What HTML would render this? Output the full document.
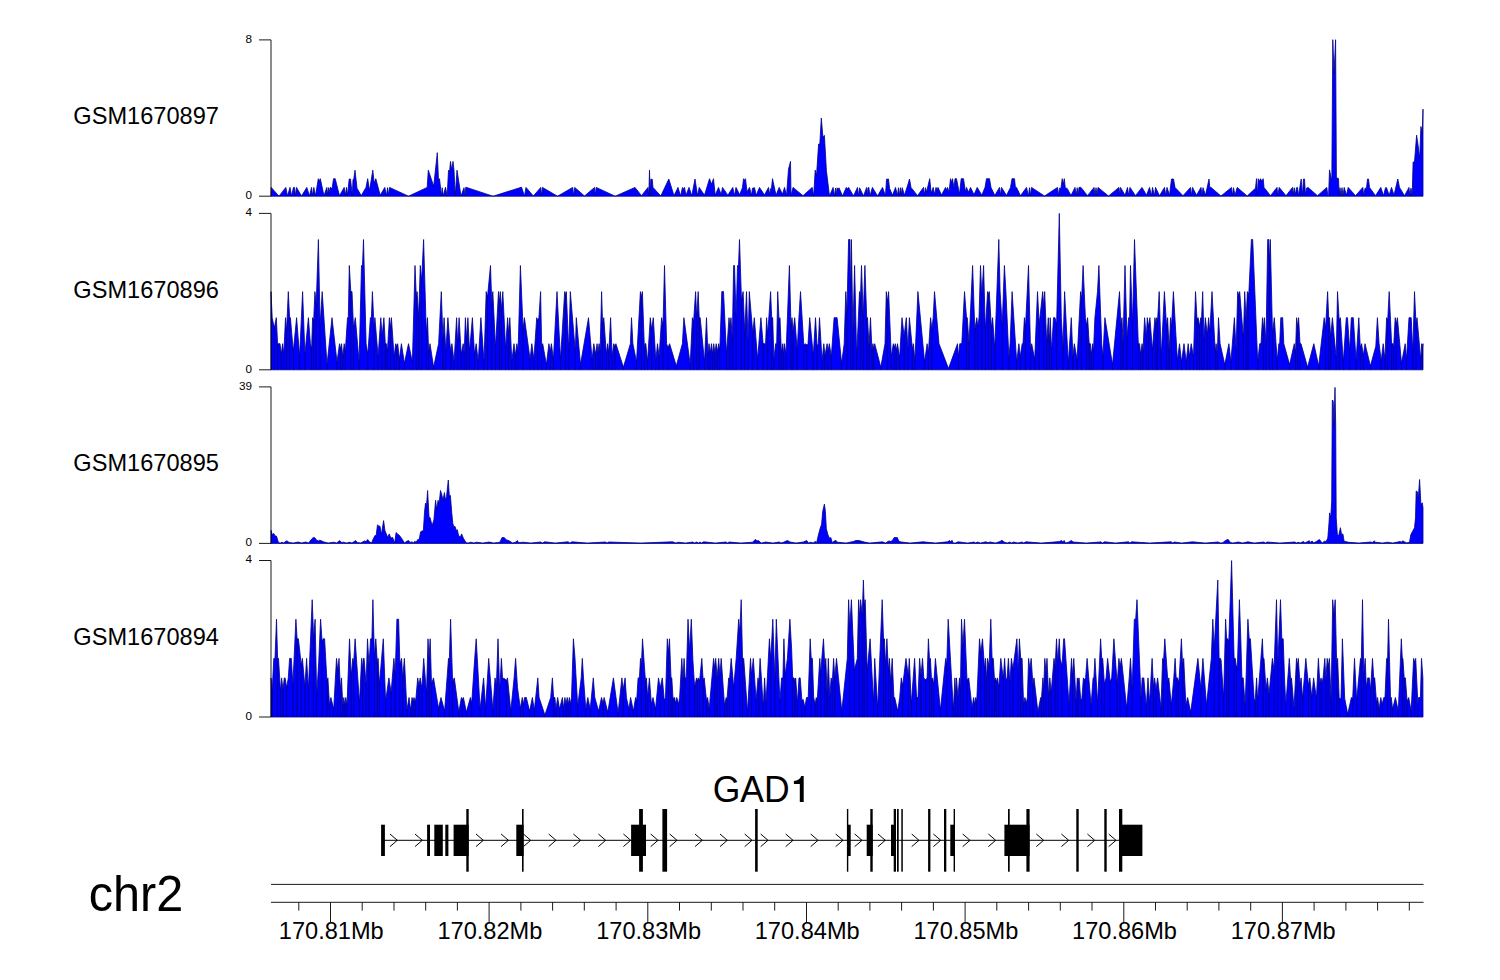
<!DOCTYPE html>
<html><head><meta charset="utf-8"><title>chr2 GAD1</title>
<style>
html,body{margin:0;padding:0;background:#fff;}
body{width:1500px;height:980px;overflow:hidden;font-family:"Liberation Sans",sans-serif;}
svg{display:block;}
text{font-family:"Liberation Sans",sans-serif;fill:#000;}
.lab{font-size:23.6px;}
.yl{font-size:11.7px;text-anchor:end;}
.ax{stroke:#000;stroke-width:0.9;fill:none;}
.gl{stroke:#000;stroke-width:1;fill:none;}
.sig{fill:#0000ff;stroke:#000088;stroke-width:0.8;stroke-linejoin:round;}
.val{fill:none;stroke:#000080;stroke-width:0.9;opacity:0.9;}
</style></head><body>
<svg width="1500" height="980" viewBox="0 0 1500 980">
<rect width="1500" height="980" fill="#fff"/>
<path class="sig" d="M271.0,196.2L271.2,187.4L279.0,196.2L285.8,187.4L287.5,196.0L290.0,187.4L291.5,196.0L293.5,187.4L294.5,187.4L295.2,196.0L296.5,187.4L301.5,196.0L306.8,187.4L309.5,196.0L311.5,187.4L312.5,195.7L313.8,187.4L315.5,195.7L318.3,178.7L319.3,181.2L320.3,178.7L324.0,195.7L326.8,187.4L327.6,194.7L328.5,187.7L329.2,194.2L330.0,187.7L330.8,187.4L332.0,189.2L333.5,178.7L335.2,178.7L339.5,195.7L344.2,187.4L345.5,195.2L346.5,187.4L347.5,195.2L349.2,179.0L350.5,179.0L352.3,195.7L353.0,179.7L353.8,178.7L355.0,170.2L357.0,188.2L361.2,195.7L366.0,187.4L367.7,178.7L369.5,190.7L372.8,170.2L374.2,183.2L375.8,178.7L380.2,195.2L384.8,187.4L386.5,195.7L387.5,187.7L388.3,195.2L389.5,187.4L408.5,196.2L427.2,187.4L428.3,170.2L433.7,186.2L437.3,152.7L438.5,180.2L439.5,178.7L441.5,196.0L442.2,187.7L443.2,196.0L445.5,187.2L447.2,196.0L448.5,170.2L449.5,172.2L450.5,161.4L451.8,170.2L453.0,161.4L454.0,170.2L455.2,196.0L457.0,170.2L461.0,196.0L464.0,187.7L465.0,195.7L465.8,187.2L493.0,196.2L521.5,187.2L524.5,196.0L526.0,187.4L533.3,196.0L540.8,187.4L541.5,195.7L542.5,187.4L557.5,196.2L572.7,187.4L573.5,195.7L574.7,187.4L584.5,196.0L594.5,187.4L595.2,195.7L596.2,187.4L615.2,196.2L635.0,187.4L641.5,195.7L648.0,187.4L648.8,196.0L649.5,170.2L650.2,195.7L650.8,179.2L652.2,179.2L653.0,187.4L660.8,196.0L668.8,179.0L674.0,195.7L678.0,187.4L680.5,196.0L682.5,187.4L683.5,189.2L684.5,187.4L686.0,195.2L689.0,187.4L691.8,195.7L695.0,179.0L697.5,195.7L699.2,187.4L704.5,195.2L709.5,178.7L711.5,184.2L713.5,178.7L715.2,195.2L718.5,187.4L721.2,194.7L722.5,187.4L727.8,195.2L732.8,187.4L734.5,195.7L736.0,187.4L739.7,194.7L742.5,187.4L743.5,178.7L744.5,180.2L745.5,178.7L747.0,191.7L749.5,187.4L751.5,195.2L752.5,188.2L754.5,187.7L756.2,195.2L759.5,187.4L764.5,195.0L768.5,187.4L769.7,195.2L770.5,188.7L771.5,188.2L772.5,178.7L776.0,195.2L779.2,187.4L782.5,194.2L784.5,187.4L786.5,195.7L788.5,169.2L790.5,161.4L791.0,195.7L793.0,187.4L803.0,195.7L812.2,187.4L813.7,196.1L815.2,170.1L816.5,175.7L818.6,144.1L819.8,144.1L821.3,118.1L822.9,136.9L824.4,135.4L826.4,170.6L829.5,196.1L833.1,187.4L834.6,195.9L835.6,188.0L836.1,195.9L837.1,187.8L838.2,190.0L839.0,187.8L842.5,195.9L846.3,187.4L847.4,189.0L848.6,187.4L853.5,195.9L857.5,187.4L858.4,195.9L859.6,187.8L863.5,195.9L866.7,187.4L867.5,195.9L868.0,188.0L868.8,187.4L870.0,195.9L872.4,187.4L877.5,195.9L882.5,187.4L885.5,195.7L886.5,179.2L888.5,179.0L889.5,188.2L892.5,195.2L895.5,187.4L897.5,195.2L898.5,187.7L899.5,195.2L900.5,187.7L901.2,195.2L902.2,187.7L904.5,195.2L908.0,184.2L909.5,179.0L911.0,187.4L917.5,195.7L923.5,187.4L924.5,195.2L925.5,187.7L926.5,192.2L929.7,178.7L931.2,193.2L933.2,187.4L934.5,194.7L936.0,187.4L937.0,190.2L938.0,187.4L941.5,195.0L945.5,187.4L946.5,190.2L947.5,187.4L949.0,192.2L950.5,178.7L951.5,182.2L952.5,178.7L954.0,188.2L955.0,178.7L956.5,178.7L959.5,194.2L961.2,178.7L963.5,178.7L965.5,192.2L966.5,187.4L968.5,192.2L970.5,187.4L974.0,194.7L977.2,187.4L981.8,195.2L985.0,187.4L986.5,178.7L989.5,178.7L991.0,187.4L994.8,195.4L999.5,187.4L1000.5,195.2L1001.5,187.4L1006.5,195.4L1010.5,187.4L1012.0,178.7L1014.5,178.7L1015.5,188.2L1016.5,187.4L1020.5,195.7L1026.5,187.4L1028.5,196.0L1029.5,187.7L1030.5,195.7L1031.5,187.4L1044.5,196.0L1057.5,187.4L1058.5,195.7L1059.5,188.2L1061.0,188.2L1062.2,178.7L1063.3,184.2L1064.3,178.7L1065.3,188.2L1067.0,188.2L1071.0,195.4L1075.0,187.4L1076.2,195.2L1077.2,187.7L1078.2,195.2L1079.0,187.4L1081.0,187.4L1087.5,195.7L1094.0,187.4L1095.0,195.2L1096.0,187.7L1097.0,195.2L1098.0,187.4L1108.5,196.0L1119.0,187.4L1119.8,195.7L1120.5,187.4L1125.0,195.2L1127.5,187.4L1128.7,195.7L1130.0,187.4L1135.5,195.7L1142.0,187.4L1146.5,195.2L1149.5,187.4L1151.5,195.7L1152.5,187.4L1154.5,195.7L1155.5,187.4L1159.5,195.7L1164.5,187.4L1165.8,195.7L1167.0,187.4L1169.5,195.2L1171.5,179.0L1173.5,179.0L1175.0,187.4L1183.0,195.7L1190.5,187.4L1191.5,195.7L1192.5,187.4L1196.5,195.2L1201.0,187.4L1202.0,195.2L1203.0,187.7L1205.5,195.2L1209.0,179.0L1209.8,187.2L1211.0,187.4L1221.0,196.0L1231.5,187.4L1232.5,195.7L1233.5,187.7L1235.0,195.2L1237.2,187.4L1247.2,196.0L1255.5,188.2L1256.5,178.7L1257.5,196.0L1258.2,178.7L1259.5,181.2L1260.5,178.7L1262.0,181.2L1263.2,178.7L1264.0,187.4L1270.5,195.7L1277.0,187.4L1277.8,195.7L1279.2,187.4L1286.0,195.7L1292.5,187.4L1293.2,195.2L1294.2,187.7L1295.5,194.7L1296.5,187.7L1297.5,187.4L1298.5,195.7L1301.2,179.0L1302.5,195.7L1303.5,179.0L1304.5,179.0L1305.5,195.7L1306.5,188.2L1308.0,187.4L1317.5,195.7L1326.8,187.4L1327.8,196.0L1328.6,195.5L1329.5,169.9L1331.8,181.1L1332.8,39.7L1334.0,73.6L1335.6,39.7L1336.4,177.7L1338.5,178.5L1339.2,195.0L1340.0,187.7L1341.0,195.7L1342.0,187.7L1343.0,195.7L1344.2,187.4L1346.5,195.2L1348.2,187.4L1355.5,195.7L1362.8,187.4L1363.8,195.7L1365.0,188.2L1366.5,188.2L1367.5,179.0L1368.5,179.0L1369.5,187.4L1375.5,195.7L1380.8,187.4L1383.5,195.7L1385.5,187.7L1386.5,187.7L1389.2,195.2L1391.5,187.4L1394.0,195.2L1397.8,179.0L1399.5,187.4L1404.5,195.7L1409.0,187.4L1409.8,195.7L1411.0,188.2L1412.2,195.7L1413.1,162.0L1414.5,162.0L1416.6,135.2L1418.0,144.7L1419.7,158.6L1420.9,126.5L1422.3,132.6L1423.0,109.1L1423.0,196.2Z"/>
<path class="ax" d="M259,39.9H271.0V196.2H259"/>
<text class="yl" x="252.1" y="42.7">8</text>
<text class="yl" x="252.1" y="199.0">0</text>
<text class="lab" transform="translate(73.3,124.2) scale(1,1.05)">GSM1670897</text>
<path class="sig" d="M271.0,369.8L271.0,291.6L272.2,317.7L274.3,328.1L276.3,317.7L277.6,343.7L278.8,343.7L280.0,343.7L281.3,354.2L282.6,343.7L283.8,354.2L285.5,317.7L286.6,330.7L288.3,291.6L289.6,317.7L290.4,317.7L293.3,351.6L296.6,317.7L299.6,356.8L302.6,291.6L304.9,354.2L308.4,317.7L310.4,343.7L311.6,348.9L312.6,317.7L313.7,320.3L314.9,291.6L316.2,304.6L318.4,239.5L320.1,325.5L322.2,291.6L327.0,364.6L332.0,317.7L337.0,362.0L339.5,343.7L340.5,348.9L341.5,343.7L342.8,356.8L344.2,343.7L345.3,351.6L347.5,317.7L348.3,317.7L349.3,265.5L350.8,291.6L352.0,291.6L353.5,328.1L355.3,317.7L359.1,362.0L361.5,265.5L362.5,265.5L363.5,239.5L366.1,343.7L367.8,354.2L370.4,317.7L371.4,317.7L372.4,291.6L374.1,328.1L374.9,317.7L378.1,356.8L380.8,317.7L382.1,335.9L383.9,317.7L385.3,343.7L386.4,343.7L387.4,351.6L389.4,317.7L390.4,328.1L391.4,317.7L394.1,356.8L395.7,343.7L396.6,346.3L397.7,343.7L399.4,359.4L401.4,343.7L404.4,363.3L408.5,343.7L412.4,362.0L415.0,265.5L416.3,296.8L417.1,291.6L418.6,317.7L420.3,265.5L421.6,281.2L423.6,239.5L426.3,333.3L427.5,317.7L428.6,351.6L430.0,343.7L433.6,367.2L438.6,343.7L441.3,291.6L442.9,338.5L444.1,317.7L445.8,351.6L447.9,317.7L449.9,343.7L450.8,351.6L451.9,343.7L454.1,362.0L456.6,317.7L457.7,343.7L459.1,317.7L461.2,354.2L463.2,343.7L464.2,354.2L465.4,317.7L466.6,339.8L467.9,317.7L469.5,351.6L472.4,317.7L474.5,354.2L476.2,343.7L478.2,362.0L480.9,317.7L484.0,362.0L486.2,291.6L487.5,296.8L490.5,265.5L491.8,304.6L492.8,291.6L495.5,347.6L498.5,291.6L499.5,302.0L500.3,291.6L501.5,309.8L502.8,291.6L505.6,348.9L507.6,317.7L508.5,333.3L509.8,317.7L511.8,360.7L514.0,343.7L515.3,355.5L516.9,343.7L518.1,351.6L520.4,265.5L523.1,329.4L524.4,317.7L530.1,359.4L531.8,343.7L533.9,359.4L536.7,317.7L537.7,320.3L538.9,317.7L540.6,291.6L541.7,347.6L542.7,343.7L546.4,364.6L548.9,343.7L550.2,351.6L551.4,343.7L553.4,359.4L557.0,291.6L560.5,359.4L564.7,291.6L565.5,295.5L566.3,291.6L568.8,351.6L570.3,291.6L575.3,351.6L576.3,317.7L580.5,364.6L588.5,317.7L592.1,359.4L593.8,343.7L595.5,354.2L597.1,343.7L597.9,352.9L599.1,343.7L600.1,351.6L601.6,291.6L602.6,324.2L603.8,317.7L606.3,354.2L607.6,343.7L608.8,352.9L610.6,317.7L612.1,356.8L613.7,343.7L614.9,346.3L615.9,343.7L623.4,367.2L630.4,343.7L631.5,317.7L632.9,343.7L636.5,362.0L640.4,291.6L641.4,296.8L642.4,291.6L644.5,351.6L645.0,343.7L645.8,343.7L647.5,362.0L650.3,317.7L651.6,329.4L653.3,317.7L655.8,360.7L657.5,343.7L659.1,356.8L661.6,317.7L663.0,325.5L664.5,265.5L666.6,343.7L668.0,347.6L669.6,343.7L676.3,365.9L682.4,343.7L683.9,317.7L690.2,364.6L692.4,317.7L693.6,321.6L695.6,291.6L696.7,317.7L698.2,291.6L699.2,317.7L700.2,317.7L704.5,362.0L706.5,317.7L707.9,354.2L709.0,343.7L710.2,352.9L711.5,343.7L712.5,354.2L713.7,343.7L714.9,352.9L716.2,343.7L717.5,351.6L718.7,343.7L719.8,350.2L721.8,291.6L723.5,291.6L726.5,354.2L729.0,317.7L729.8,326.8L731.0,317.7L732.3,341.1L733.6,265.5L734.5,265.5L736.1,317.7L737.5,265.5L738.5,265.5L739.5,239.5L741.5,300.7L743.1,291.6L744.8,333.3L746.5,291.6L748.1,343.7L749.3,291.6L752.8,333.3L754.3,317.7L757.6,359.4L760.9,317.7L763.1,343.7L765.6,343.7L766.6,317.7L767.7,334.6L770.6,291.6L771.7,317.7L772.7,317.7L773.9,359.4L775.6,343.7L776.7,343.7L777.7,291.6L779.0,319.0L780.0,317.7L781.4,352.9L782.7,343.7L783.4,354.2L784.4,343.7L786.0,354.2L789.4,265.5L791.0,325.5L792.0,317.7L793.0,332.0L794.7,317.7L797.2,350.2L798.9,317.7L800.5,291.6L803.8,345.0L805.5,343.7L806.7,345.0L808.0,343.7L809.7,317.7L813.3,355.5L815.5,317.7L817.1,346.3L818.3,343.7L819.5,317.7L822.1,360.7L823.8,343.7L825.0,355.5L827.1,343.7L828.0,351.6L829.3,343.7L831.3,356.8L834.1,317.7L837.1,317.7L841.6,363.3L844.2,343.7L845.8,291.6L846.9,315.1L848.6,239.5L849.9,239.5L850.6,291.6L851.4,239.5L852.9,333.3L854.6,265.5L856.7,356.8L859.5,291.6L860.4,299.4L861.5,265.5L863.2,317.7L864.9,265.5L866.7,317.7L867.5,317.7L869.0,346.3L870.5,317.7L872.0,351.6L872.9,343.7L873.7,348.9L874.7,343.7L880.8,367.2L885.0,343.7L886.3,291.6L887.3,302.0L888.6,291.6L891.3,356.8L893.3,343.7L894.3,347.6L895.3,343.7L896.3,350.2L897.5,343.7L899.6,358.1L902.0,317.7L904.1,335.9L906.3,317.7L907.9,350.2L909.4,317.7L912.4,348.9L913.4,343.7L914.9,360.7L917.9,291.6L924.6,362.0L927.1,343.7L928.4,352.9L930.6,317.7L931.9,329.4L933.2,317.7L934.5,291.6L939.0,343.7L948.5,368.5L957.5,343.7L958.5,356.8L959.8,343.7L961.8,343.7L964.5,291.6L966.5,317.7L967.3,317.7L969.0,343.7L972.6,265.5L974.8,329.4L976.8,317.7L977.8,326.8L979.0,317.7L980.5,265.5L981.8,295.5L983.6,265.5L985.3,330.7L987.6,291.6L988.4,294.2L989.3,291.6L991.4,328.1L992.6,317.7L994.8,348.9L998.8,239.5L1000.1,291.6L1002.2,325.5L1004.4,265.5L1005.9,291.6L1008.9,358.1L1010.1,343.7L1012.1,291.6L1016.7,362.0L1018.9,343.7L1020.2,356.8L1022.2,343.7L1023.0,343.7L1024.4,317.7L1025.5,326.8L1028.5,265.5L1030.5,348.9L1031.7,343.7L1034.7,359.4L1037.5,291.6L1039.2,324.2L1042.7,291.6L1043.8,307.2L1044.7,291.6L1046.7,343.7L1048.3,317.7L1049.3,343.7L1050.2,317.7L1051.6,351.6L1053.5,317.7L1055.0,317.7L1056.6,324.2L1059.3,213.4L1061.3,317.7L1063.0,347.6L1064.6,291.6L1068.3,363.3L1071.3,317.7L1072.9,356.8L1074.3,343.7L1077.1,359.4L1080.6,291.6L1081.6,299.4L1083.1,265.5L1085.4,317.7L1086.6,325.5L1087.6,317.7L1089.2,343.7L1090.4,343.7L1091.2,355.5L1092.6,343.7L1093.4,352.9L1094.9,317.7L1097.5,291.6L1098.9,265.5L1101.7,343.7L1102.9,356.8L1104.9,317.7L1112.5,364.6L1119.5,291.6L1120.8,324.2L1122.0,317.7L1123.0,343.7L1125.0,265.5L1127.0,338.5L1128.6,317.7L1129.6,317.7L1130.5,265.5L1132.5,324.2L1134.5,239.5L1138.3,343.7L1139.6,343.7L1140.5,354.2L1142.1,343.7L1142.9,352.9L1144.6,317.7L1146.3,337.2L1147.3,317.7L1148.6,326.8L1149.9,317.7L1152.4,350.2L1154.9,317.7L1155.9,324.2L1156.6,317.7L1157.6,320.3L1159.2,291.6L1161.2,356.8L1164.4,291.6L1166.6,326.8L1167.6,317.7L1169.2,351.6L1170.5,317.7L1171.5,326.8L1173.4,291.6L1177.4,360.7L1179.5,343.7L1181.5,362.0L1184.0,343.7L1186.2,362.0L1188.2,343.7L1189.5,356.8L1191.2,343.7L1193.5,356.8L1195.5,291.6L1197.0,319.0L1198.2,317.7L1199.5,326.8L1200.7,317.7L1201.5,320.3L1202.7,291.6L1204.0,339.8L1205.3,317.7L1207.3,334.6L1208.6,317.7L1209.8,332.0L1212.0,291.6L1215.3,352.9L1216.1,343.7L1217.3,354.2L1218.5,317.7L1220.1,343.7L1224.8,364.6L1228.9,343.7L1230.9,362.0L1234.4,317.7L1236.1,350.2L1237.7,291.6L1238.7,295.5L1239.7,291.6L1243.4,338.5L1244.7,291.6L1246.1,320.3L1247.4,291.6L1248.1,295.5L1248.9,291.6L1251.4,239.5L1252.7,239.5L1257.7,362.0L1259.7,343.7L1261.0,343.7L1262.5,317.7L1263.4,329.4L1264.4,317.7L1266.0,343.7L1267.7,239.5L1268.7,239.5L1269.5,260.3L1270.3,239.5L1272.5,333.3L1274.3,317.7L1277.2,360.7L1278.8,343.7L1279.7,343.7L1280.8,317.7L1282.7,317.7L1283.8,343.7L1289.6,364.6L1294.3,343.7L1295.5,352.9L1296.6,317.7L1297.6,326.8L1298.6,317.7L1300.0,343.7L1301.0,343.7L1307.6,367.2L1313.8,343.7L1318.7,365.9L1324.2,317.7L1325.6,328.1L1327.6,291.6L1328.7,317.7L1329.5,317.7L1330.7,337.2L1332.4,317.7L1336.2,358.1L1337.5,291.6L1339.2,320.3L1340.4,317.7L1343.3,362.0L1346.3,317.7L1347.5,317.7L1349.7,351.6L1351.3,317.7L1353.3,317.7L1356.1,360.7L1358.8,317.7L1360.3,347.6L1361.6,343.7L1363.3,355.5L1365.0,343.7L1370.4,365.9L1375.8,346.3L1377.4,317.7L1379.1,343.7L1381.2,360.7L1383.2,343.7L1384.9,359.4L1386.6,317.7L1387.7,320.3L1389.2,291.6L1391.6,343.7L1392.9,343.7L1393.6,347.6L1395.2,317.7L1396.2,324.2L1397.4,317.7L1401.5,363.3L1405.2,343.7L1406.5,359.4L1409.0,317.7L1411.2,317.7L1412.8,352.9L1414.5,291.6L1416.0,324.2L1417.0,317.7L1420.7,359.4L1421.7,343.7L1422.5,347.6L1423.0,343.7L1423.0,369.8Z"/>
<path class="val" d="M274.3,328.1V369.8M277.6,343.7V369.8M281.3,354.2V369.8M283.8,354.2V369.8M286.6,330.7V369.8M289.6,317.7V369.8M293.3,351.6V369.8M299.6,356.8V369.8M304.9,354.2V369.8M311.6,348.9V369.8M313.7,320.3V369.8M316.2,304.6V369.8M320.1,325.5V369.8M327.0,364.6V369.8M337.0,362.0V369.8M340.5,348.9V369.8M342.8,356.8V369.8M345.3,351.6V369.8M350.8,291.6V369.8M353.5,328.1V369.8M359.1,362.0V369.8M367.8,354.2V369.8M374.1,328.1V369.8M378.1,356.8V369.8M382.1,335.9V369.8M385.3,343.7V369.8M387.4,351.6V369.8M390.4,328.1V369.8M394.1,356.8V369.8M396.6,346.3V369.8M399.4,359.4V369.8M404.4,363.3V369.8M412.4,362.0V369.8M416.3,296.8V369.8M418.6,317.7V369.8M421.6,281.2V369.8M426.3,333.3V369.8M428.6,351.6V369.8M433.6,367.2V369.8M442.9,338.5V369.8M445.8,351.6V369.8M450.8,351.6V369.8M454.1,362.0V369.8M457.7,343.7V369.8M461.2,354.2V369.8M464.2,354.2V369.8M466.6,339.8V369.8M469.5,351.6V369.8M474.5,354.2V369.8M478.2,362.0V369.8M484.0,362.0V369.8M487.5,296.8V369.8M491.8,304.6V369.8M495.5,347.6V369.8M499.5,302.0V369.8M501.5,309.8V369.8M505.6,348.9V369.8M508.5,333.3V369.8M511.8,360.7V369.8M515.3,355.5V369.8M518.1,351.6V369.8M523.1,329.4V369.8M530.1,359.4V369.8M533.9,359.4V369.8M537.7,320.3V369.8M541.7,347.6V369.8M546.4,364.6V369.8M550.2,351.6V369.8M553.4,359.4V369.8M560.5,359.4V369.8M565.5,295.5V369.8M568.8,351.6V369.8M575.3,351.6V369.8M580.5,364.6V369.8M592.1,359.4V369.8M595.5,354.2V369.8M597.9,352.9V369.8M600.1,351.6V369.8M602.6,324.2V369.8M606.3,354.2V369.8M608.8,352.9V369.8M612.1,356.8V369.8M614.9,346.3V369.8M623.4,367.2V369.8M636.5,362.0V369.8M641.4,296.8V369.8M644.5,351.6V369.8M647.5,362.0V369.8M651.6,329.4V369.8M655.8,360.7V369.8M659.1,356.8V369.8M663.0,325.5V369.8M668.0,347.6V369.8M676.3,365.9V369.8M690.2,364.6V369.8M693.6,321.6V369.8M696.7,317.7V369.8M699.2,317.7V369.8M704.5,362.0V369.8M707.9,354.2V369.8M710.2,352.9V369.8M712.5,354.2V369.8M714.9,352.9V369.8M717.5,351.6V369.8M719.8,350.2V369.8M726.5,354.2V369.8M729.8,326.8V369.8M732.3,341.1V369.8M736.1,317.7V369.8M741.5,300.7V369.8M744.8,333.3V369.8M748.1,343.7V369.8M752.8,333.3V369.8M757.6,359.4V369.8M763.1,343.7V369.8M767.7,334.6V369.8M771.7,317.7V369.8M773.9,359.4V369.8M779.0,319.0V369.8M781.4,352.9V369.8M783.4,354.2V369.8M786.0,354.2V369.8M791.0,325.5V369.8M793.0,332.0V369.8M797.2,350.2V369.8M803.8,345.0V369.8M806.7,345.0V369.8M813.3,355.5V369.8M817.1,346.3V369.8M822.1,360.7V369.8M825.0,355.5V369.8M828.0,351.6V369.8M831.3,356.8V369.8M841.6,363.3V369.8M846.9,315.1V369.8M850.6,291.6V369.8M852.9,333.3V369.8M856.7,356.8V369.8M860.4,299.4V369.8M863.2,317.7V369.8M866.7,317.7V369.8M869.0,346.3V369.8M872.0,351.6V369.8M873.7,348.9V369.8M880.8,367.2V369.8M887.3,302.0V369.8M891.3,356.8V369.8M894.3,347.6V369.8M896.3,350.2V369.8M899.6,358.1V369.8M904.1,335.9V369.8M907.9,350.2V369.8M912.4,348.9V369.8M914.9,360.7V369.8M924.6,362.0V369.8M928.4,352.9V369.8M931.9,329.4V369.8M958.5,356.8V369.8M966.5,317.7V369.8M969.0,343.7V369.8M974.8,329.4V369.8M977.8,326.8V369.8M981.8,295.5V369.8M985.3,330.7V369.8M988.4,294.2V369.8M991.4,328.1V369.8M994.8,348.9V369.8M1002.2,325.5V369.8M1008.9,358.1V369.8M1016.7,362.0V369.8M1020.2,356.8V369.8M1025.5,326.8V369.8M1030.5,348.9V369.8M1034.7,359.4V369.8M1039.2,324.2V369.8M1043.8,307.2V369.8M1046.7,343.7V369.8M1049.3,343.7V369.8M1051.6,351.6V369.8M1056.6,324.2V369.8M1063.0,347.6V369.8M1068.3,363.3V369.8M1072.9,356.8V369.8M1077.1,359.4V369.8M1081.6,299.4V369.8M1086.6,325.5V369.8M1089.2,343.7V369.8M1091.2,355.5V369.8M1093.4,352.9V369.8M1102.9,356.8V369.8M1112.5,364.6V369.8M1120.8,324.2V369.8M1123.0,343.7V369.8M1127.0,338.5V369.8M1132.5,324.2V369.8M1138.3,343.7V369.8M1140.5,354.2V369.8M1142.9,352.9V369.8M1146.3,337.2V369.8M1148.6,326.8V369.8M1152.4,350.2V369.8M1155.9,324.2V369.8M1157.6,320.3V369.8M1161.2,356.8V369.8M1166.6,326.8V369.8M1169.2,351.6V369.8M1171.5,326.8V369.8M1177.4,360.7V369.8M1181.5,362.0V369.8M1186.2,362.0V369.8M1189.5,356.8V369.8M1193.5,356.8V369.8M1197.0,319.0V369.8M1199.5,326.8V369.8M1201.5,320.3V369.8M1204.0,339.8V369.8M1207.3,334.6V369.8M1209.8,332.0V369.8M1215.3,352.9V369.8M1217.3,354.2V369.8M1224.8,364.6V369.8M1230.9,362.0V369.8M1236.1,350.2V369.8M1238.7,295.5V369.8M1243.4,338.5V369.8M1246.1,320.3V369.8M1248.1,295.5V369.8M1257.7,362.0V369.8M1263.4,329.4V369.8M1266.0,343.7V369.8M1269.5,260.3V369.8M1272.5,333.3V369.8M1277.2,360.7V369.8M1289.6,364.6V369.8M1295.5,352.9V369.8M1297.6,326.8V369.8M1300.0,343.7V369.8M1307.6,367.2V369.8M1318.7,365.9V369.8M1325.6,328.1V369.8M1328.7,317.7V369.8M1330.7,337.2V369.8M1336.2,358.1V369.8M1339.2,320.3V369.8M1343.3,362.0V369.8M1349.7,351.6V369.8M1356.1,360.7V369.8M1360.3,347.6V369.8M1363.3,355.5V369.8M1370.4,365.9V369.8M1381.2,360.7V369.8M1384.9,359.4V369.8M1387.7,320.3V369.8M1391.6,343.7V369.8M1393.6,347.6V369.8M1396.2,324.2V369.8M1401.5,363.3V369.8M1406.5,359.4V369.8M1412.8,352.9V369.8M1416.0,324.2V369.8M1420.7,359.4V369.8M1422.5,347.6V369.8"/>
<path class="ax" d="M259,213.4H271.0V369.8H259"/>
<text class="yl" x="252.1" y="216.2">4</text>
<text class="yl" x="252.1" y="372.6">0</text>
<text class="lab" transform="translate(73.3,297.8) scale(1,1.05)">GSM1670896</text>
<path class="sig" d="M271.0,543.4L271.1,530.4L272.2,534.6L273.9,533.5L275.0,536.0L276.4,536.0L278.5,542.7L280.6,543.0L282.0,542.2L283.4,543.0L286.9,540.8L289.0,542.4L293.2,543.1L298.1,542.0L301.6,543.0L305.8,542.0L308.6,543.1L312.1,538.5L313.5,537.4L314.9,537.8L316.3,539.9L318.4,540.9L319.8,540.2L324.0,542.0L328.2,543.1L333.8,542.2L336.6,543.0L339.7,540.6L341.5,542.4L343.6,542.2L346.4,543.1L349.9,542.2L352.0,543.1L355.5,540.6L357.3,542.4L360.4,543.1L364.6,540.9L366.0,541.6L367.7,539.5L369.1,541.6L371.6,543.0L373.3,538.8L375.1,535.3L376.1,536.0L377.5,524.8L378.9,526.2L380.0,526.2L381.4,534.6L383.6,520.6L384.9,530.4L386.3,533.9L387.7,537.4L389.2,533.9L390.9,538.1L392.6,537.4L394.7,543.0L396.1,532.5L397.5,533.9L398.9,534.9L401.0,537.4L404.5,543.0L406.6,541.3L408.7,540.6L410.1,542.4L412.2,541.9L413.6,543.0L414.7,541.3L416.1,542.2L417.8,539.5L419.2,539.5L420.6,531.8L422.0,531.1L423.4,530.4L424.5,512.2L425.5,503.1L426.5,505.9L427.6,490.5L429.0,516.4L430.1,517.8L432.1,525.5L433.9,519.9L435.6,500.3L436.7,509.4L438.1,500.3L439.1,503.8L440.5,490.5L441.6,494.0L443.0,500.3L444.4,492.6L445.5,500.3L446.5,496.8L448.3,480.0L449.3,496.1L450.4,495.4L451.7,512.2L452.8,523.4L453.9,526.9L454.9,526.2L456.3,530.4L457.3,529.7L458.7,536.0L460.5,536.7L461.6,533.9L463.3,538.1L466.1,542.7L468.2,543.0L471.0,542.2L473.8,543.0L476.6,542.2L478.0,542.4L482.8,543.1L489.2,542.0L493.5,543.1L497.7,542.5L499.9,542.2L502.0,537.6L504.1,537.6L506.3,539.7L509.5,541.0L512.7,543.1L515.9,542.0L517.4,540.5L518.6,542.7L523.3,542.2L530.8,543.1L540.4,542.0L542.5,543.1L544.7,541.8L555.3,543.1L568.1,541.8L569.8,543.1L572.0,541.8L587.3,543.1L605.5,542.0L607.0,543.1L608.7,542.0L640.7,543.1L672.7,541.8L675.9,543.1L678.0,542.2L685.5,543.1L692.9,542.0L694.4,543.1L696.6,542.0L698.3,543.1L700.0,542.0L701.5,543.1L703.6,541.8L715.3,543.1L726.0,542.0L727.5,543.1L729.2,542.0L740.9,543.1L752.7,542.2L755.4,539.3L756.9,541.0L758.4,540.5L761.2,543.1L765.5,542.0L772.9,543.1L779.3,542.0L781.0,543.1L783.6,542.2L787.4,540.5L790.0,542.0L796.0,543.1L803.5,542.0L806.7,540.5L808.4,543.1L810.9,542.2L813.1,543.1L815.2,541.4L816.7,542.5L818.4,535.0L820.1,528.6L821.6,524.3L822.7,511.5L824.4,504.1L825.4,511.5L826.3,528.6L828.0,535.0L829.5,538.2L830.8,537.6L832.3,542.7L834.4,541.0L835.9,540.5L837.6,542.2L846.1,543.1L853.6,541.4L855.7,540.5L858.9,540.5L864.3,542.0L869.6,543.1L880.3,542.0L882.4,541.8L885.6,543.1L888.8,541.0L890.9,541.4L892.6,540.3L894.1,537.6L897.3,537.6L899.0,541.4L901.6,542.0L910.1,543.1L922.9,541.8L935.7,543.1L947.5,541.8L949.6,540.5L950.7,541.8L952.0,540.3L953.2,543.1L955.4,543.1L958.1,541.8L961.3,542.2L967.7,543.1L974.1,542.0L975.8,543.1L977.3,542.0L980.5,543.1L985.9,541.8L988.0,542.7L990.1,542.0L995.5,543.1L1000.2,541.4L1001.9,540.3L1004.0,542.0L1007.2,543.1L1010.0,542.0L1011.5,543.1L1013.6,542.0L1017.9,543.1L1022.1,542.0L1023.8,543.1L1025.8,541.8L1041.3,543.1L1059.5,541.6L1061.6,540.5L1062.9,541.8L1064.2,540.5L1065.4,543.1L1069.1,542.0L1071.2,540.5L1073.3,542.0L1086.1,543.1L1100.0,542.0L1100.7,541.8L1102.4,543.1L1104.5,541.8L1115.6,543.1L1128.4,541.8L1130.1,543.1L1131.6,541.8L1149.7,543.1L1171.1,541.8L1172.8,543.1L1174.3,542.0L1181.7,543.1L1192.4,541.8L1205.2,543.1L1218.0,542.0L1220.6,543.1L1222.7,542.7L1225.5,540.5L1228.0,539.3L1230.4,542.5L1232.9,543.1L1238.3,542.0L1242.5,543.1L1247.9,541.8L1254.3,543.1L1263.9,542.0L1265.4,543.1L1267.1,542.0L1279.9,543.1L1294.8,542.0L1296.5,543.1L1298.0,542.2L1300.1,543.1L1303.4,541.5L1305.0,542.9L1307.6,541.5L1309.3,540.7L1310.4,542.5L1312.1,541.0L1313.8,542.9L1316.8,541.2L1319.4,539.5L1321.0,541.5L1322.4,542.9L1324.4,541.2L1326.1,541.5L1327.8,538.1L1329.0,523.0L1329.6,512.9L1330.7,517.9L1331.7,501.1L1332.3,400.0L1333.2,400.9L1334.0,425.3L1335.0,387.4L1335.7,425.3L1336.2,517.9L1337.4,534.8L1338.7,535.6L1340.4,527.7L1341.6,534.8L1342.9,533.9L1344.1,541.2L1348.8,542.3L1358.9,543.1L1370.7,542.0L1372.8,542.5L1374.1,540.8L1375.5,542.2L1382.5,543.1L1387.6,542.2L1392.6,543.1L1400.2,541.5L1401.4,542.2L1402.7,540.8L1404.4,541.8L1406.9,542.9L1409.5,542.3L1410.8,534.8L1412.5,531.4L1414.5,527.7L1415.5,517.9L1416.2,491.0L1417.4,491.8L1418.2,499.4L1419.6,479.5L1420.9,504.4L1422.3,502.8L1423.0,507.8L1423.0,543.4Z"/>
<path class="ax" d="M259,386.9H271.0V543.4H259"/>
<text class="yl" x="252.1" y="389.7">39</text>
<text class="yl" x="252.1" y="546.2">0</text>
<text class="lab" transform="translate(73.3,471.3) scale(1,1.05)">GSM1670895</text>
<path class="sig" d="M271.0,717.0L271.0,677.9L272.2,690.6L273.8,658.4L275.0,658.4L276.5,619.2L277.6,658.4L278.5,658.4L280.5,691.6L281.6,677.9L283.0,689.6L284.3,677.9L285.1,677.9L286.6,687.7L288.3,677.9L289.6,658.4L291.3,658.4L292.9,684.7L295.9,619.2L297.1,638.8L298.4,638.8L301.3,665.2L302.4,658.4L304.9,686.7L306.6,658.4L308.4,689.6L312.2,599.7L313.7,638.8L315.1,619.2L316.7,695.5L318.7,662.3L320.6,619.2L322.1,641.7L323.2,638.8L324.6,638.8L327.0,681.8L327.9,677.9L329.5,705.3L330.9,697.5L333.7,709.2L336.5,658.4L337.9,671.1L339.0,658.4L340.4,689.6L341.5,677.9L342.8,706.2L343.8,697.5L344.8,705.3L345.8,697.5L347.0,705.3L349.5,638.8L351.2,676.0L352.8,658.4L353.6,664.2L355.1,638.8L359.5,703.3L361.6,658.4L362.5,669.1L363.3,658.4L364.1,658.4L366.1,684.7L367.5,638.8L369.0,665.2L370.6,638.8L371.9,638.8L372.9,599.7L374.4,656.4L375.8,638.8L377.4,664.2L378.1,658.4L379.4,684.7L381.6,658.4L383.3,638.8L385.6,701.4L388.9,677.9L391.1,692.6L393.9,658.4L395.2,674.0L396.9,619.2L398.6,619.2L399.9,664.2L401.6,658.4L402.7,677.9L404.4,658.4L406.9,710.2L409.0,697.5L410.7,710.2L412.0,697.5L413.0,701.4L414.0,697.5L415.2,701.4L416.0,697.5L417.7,677.9L419.0,685.7L420.2,677.9L421.9,688.6L423.7,658.4L426.5,693.5L428.0,638.8L429.0,658.4L430.2,638.8L431.5,683.8L433.5,677.9L438.5,708.2L441.0,697.5L444.6,711.1L448.5,658.4L449.3,661.3L450.6,619.2L452.6,681.8L454.3,677.9L458.8,712.1L461.4,697.5L462.3,699.4L463.4,697.5L466.4,712.1L470.4,697.5L471.7,703.3L474.7,658.4L476.2,638.8L480.1,709.2L483.6,677.9L485.6,708.2L488.7,658.4L492.9,710.2L495.0,677.9L496.4,685.7L498.0,638.8L499.7,691.6L501.4,658.4L502.5,677.9L505.0,678.9L506.3,680.8L507.5,677.9L510.8,711.1L514.1,677.9L515.6,658.4L517.5,687.7L520.3,708.2L522.3,697.5L523.3,704.3L524.6,697.5L526.3,697.5L529.6,711.1L532.4,697.5L534.3,710.2L537.8,677.9L539.1,697.5L544.9,715.0L550.7,697.5L552.4,677.9L553.6,697.5L554.9,697.5L555.9,709.2L557.7,697.5L559.5,709.2L562.4,697.5L563.5,708.2L564.9,697.5L566.0,704.3L567.2,697.5L568.2,704.3L569.4,697.5L570.4,704.3L571.5,697.5L573.4,638.8L574.9,656.4L577.7,706.2L581.2,677.9L582.3,658.4L583.5,677.9L585.8,709.2L587.8,697.5L590.2,709.2L593.3,677.9L594.8,697.5L598.6,711.1L601.5,697.5L603.1,703.3L604.1,697.5L607.8,712.1L613.4,677.9L618.1,713.1L621.9,677.9L623.1,689.6L625.1,677.9L626.4,697.5L628.9,709.2L630.6,697.5L633.4,711.1L635.6,697.5L636.7,700.4L638.1,677.9L639.4,677.9L640.5,658.4L641.4,666.2L642.5,638.8L645.5,681.8L646.4,677.9L647.7,697.5L649.4,677.9L651.4,704.3L653.0,697.5L655.5,709.2L658.5,677.9L660.2,687.7L662.3,677.9L664.3,700.4L665.5,697.5L667.3,638.8L668.5,652.5L669.5,638.8L671.0,677.9L671.8,677.9L673.0,698.4L674.6,697.5L675.5,703.3L676.8,697.5L678.5,704.3L679.6,697.5L681.8,658.4L683.0,679.9L684.1,658.4L685.1,677.9L686.3,677.9L688.0,619.2L689.6,650.5L691.3,619.2L692.9,660.3L694.6,686.7L696.6,677.9L697.4,680.8L698.4,677.9L699.6,680.8L701.8,658.4L703.2,680.8L704.2,677.9L706.6,701.4L707.6,697.5L709.2,709.2L713.6,658.4L714.6,668.1L715.7,658.4L717.1,677.9L718.7,658.4L719.9,676.0L721.2,658.4L724.5,705.3L726.2,697.5L727.0,699.4L728.7,677.9L729.5,679.9L731.2,658.4L733.7,687.7L736.2,658.4L738.7,619.2L739.8,632.9L741.2,599.7L742.5,658.4L743.7,658.4L747.5,712.1L750.5,658.4L751.6,675.0L753.3,658.4L756.1,700.4L758.0,677.9L758.8,684.7L760.1,658.4L763.3,707.2L764.6,677.9L766.0,703.3L769.4,638.8L770.8,659.3L772.8,619.2L774.9,679.9L776.3,619.2L779.9,701.4L781.6,677.9L782.9,677.9L783.9,638.8L785.2,675.0L787.4,658.4L789.9,619.2L791.6,648.6L792.7,677.9L794.0,677.9L794.9,680.8L795.7,677.9L797.4,703.3L799.0,677.9L800.2,677.9L801.9,700.4L803.2,699.4L804.9,707.2L806.5,697.5L808.2,697.5L810.2,638.8L811.2,658.4L812.4,658.4L813.7,697.5L815.2,704.3L816.2,697.5L817.3,699.4L819.8,658.4L820.8,674.0L821.8,658.4L823.5,638.8L824.8,666.2L825.8,658.4L827.1,693.5L828.3,658.4L829.8,698.4L831.1,677.9L832.3,682.8L833.6,658.4L834.8,677.9L836.5,658.4L841.8,711.1L847.3,658.4L848.6,599.7L849.8,627.1L851.4,599.7L854.4,670.1L857.3,658.4L858.6,599.7L859.4,617.3L860.6,599.7L862.2,615.3L863.4,580.1L864.2,605.6L865.2,599.7L867.2,671.1L870.1,638.8L873.6,703.3L874.7,658.4L877.7,708.2L882.2,599.7L883.5,638.8L884.4,638.8L885.5,665.2L886.9,638.8L888.4,671.1L889.4,658.4L890.7,681.8L892.2,658.4L893.9,697.5L894.7,697.5L897.7,711.1L899.7,697.5L901.3,677.9L902.7,685.7L906.0,658.4L908.3,676.0L909.3,658.4L911.3,704.3L914.6,658.4L916.6,697.5L918.0,697.5L919.6,658.4L921.0,676.0L922.5,658.4L923.8,677.9L925.5,679.9L927.1,677.9L928.4,638.8L929.6,661.3L930.4,658.4L931.6,680.8L932.6,677.9L933.8,684.7L935.4,658.4L940.4,710.2L945.7,658.4L946.7,665.2L948.2,619.2L953.4,710.2L954.9,677.9L955.7,695.5L956.5,677.9L957.9,697.5L959.5,677.9L960.4,690.6L961.5,619.2L962.9,646.6L964.5,619.2L967.0,679.9L968.7,677.9L972.0,707.2L973.7,697.5L974.5,704.3L975.8,697.5L976.7,702.3L979.5,638.8L980.8,652.5L982.5,638.8L984.6,669.1L985.5,658.4L986.6,680.8L987.5,658.4L989.1,666.2L990.8,619.2L992.1,658.4L993.3,658.4L994.6,681.8L995.5,677.9L996.3,681.8L997.5,677.9L998.8,687.7L1000.8,658.4L1003.3,678.9L1004.6,658.4L1005.9,679.9L1007.1,677.9L1008.4,658.4L1009.9,682.8L1011.4,658.4L1012.9,669.1L1016.9,638.8L1018.2,673.0L1019.4,638.8L1020.7,658.4L1022.1,658.4L1023.6,705.3L1024.9,697.5L1026.2,703.3L1027.4,697.5L1028.6,658.4L1029.9,669.1L1031.2,658.4L1032.9,684.7L1034.0,677.9L1037.9,712.1L1040.7,697.5L1041.5,698.4L1042.9,677.9L1043.7,689.6L1044.8,658.4L1046.0,673.0L1047.0,658.4L1048.7,697.5L1049.8,677.9L1051.2,692.6L1054.0,658.4L1055.2,666.2L1056.5,638.8L1057.8,662.3L1059.3,638.8L1060.2,658.4L1062.0,666.2L1063.7,638.8L1064.5,638.8L1069.0,704.3L1071.5,658.4L1072.5,676.0L1073.8,658.4L1076.1,701.4L1077.3,677.9L1078.1,679.9L1079.1,677.9L1080.6,698.4L1081.8,699.4L1083.4,677.9L1084.8,679.9L1085.6,677.9L1087.1,658.4L1091.1,705.3L1093.1,677.9L1093.9,677.9L1094.9,658.4L1097.6,703.3L1100.6,638.8L1101.7,658.4L1102.7,658.4L1104.4,683.8L1106.1,677.9L1107.6,658.4L1110.2,681.8L1111.7,677.9L1113.9,638.8L1117.2,683.8L1118.9,658.4L1120.0,667.1L1121.4,658.4L1126.7,708.2L1129.2,677.9L1130.5,658.4L1132.2,688.6L1134.3,619.2L1135.7,619.2L1137.0,599.7L1141.0,698.4L1142.2,677.9L1143.8,677.9L1146.3,707.2L1148.0,677.9L1149.6,703.3L1152.1,658.4L1153.5,687.7L1154.6,677.9L1156.0,689.6L1157.6,677.9L1161.0,708.2L1162.6,658.4L1163.6,660.3L1164.8,638.8L1167.9,681.8L1168.8,677.9L1171.3,705.3L1173.8,677.9L1175.1,658.4L1176.2,677.9L1177.6,677.9L1178.4,682.8L1179.2,677.9L1181.4,638.8L1182.6,665.2L1183.7,658.4L1185.9,705.3L1187.6,697.5L1190.7,712.1L1197.9,658.4L1200.9,688.6L1202.9,658.4L1206.5,705.3L1211.3,658.4L1212.8,619.2L1214.2,648.6L1217.8,580.1L1219.1,658.4L1220.5,658.4L1221.1,660.3L1223.6,698.4L1225.6,619.2L1226.6,638.8L1227.8,638.8L1228.8,641.7L1231.6,560.6L1234.1,658.4L1235.3,658.4L1236.3,666.2L1237.4,666.2L1239.4,599.7L1240.8,638.8L1241.9,677.9L1243.2,677.9L1245.2,706.2L1247.9,619.2L1249.2,638.8L1250.4,638.8L1254.1,698.4L1255.2,701.4L1256.6,677.9L1257.7,700.4L1262.4,638.8L1263.2,658.4L1264.0,658.4L1266.0,689.6L1267.4,677.9L1269.0,694.5L1272.4,658.4L1274.0,670.1L1276.5,599.7L1277.8,664.2L1280.5,599.7L1281.8,638.8L1283.2,638.8L1284.5,677.9L1285.8,705.3L1289.3,658.4L1290.7,680.8L1291.5,677.9L1294.0,708.2L1296.5,658.4L1297.3,666.2L1298.3,658.4L1300.1,685.7L1301.1,677.9L1302.6,698.4L1304.3,677.9L1305.8,658.4L1308.5,685.7L1309.8,677.9L1311.8,697.5L1313.6,677.9L1316.4,698.4L1318.4,658.4L1319.8,682.8L1321.1,677.9L1321.9,682.8L1323.1,677.9L1324.8,658.4L1325.9,679.9L1327.2,658.4L1328.1,667.1L1329.4,658.4L1331.1,700.4L1332.7,599.7L1333.9,615.3L1335.2,599.7L1336.7,665.2L1337.6,658.4L1339.2,698.4L1341.0,698.4L1342.4,638.8L1344.7,698.4L1347.7,714.1L1351.4,697.5L1352.7,698.4L1354.5,658.4L1356.7,700.4L1360.5,658.4L1361.3,661.3L1362.5,599.7L1363.8,674.0L1365.2,658.4L1366.3,687.7L1367.7,677.9L1369.3,677.9L1370.5,690.6L1372.5,658.4L1373.7,677.9L1374.7,677.9L1376.6,703.3L1377.6,697.5L1379.1,709.2L1380.8,697.5L1382.1,704.3L1383.8,697.5L1385.0,697.5L1386.6,658.4L1387.6,659.3L1388.5,619.2L1390.5,698.4L1391.3,697.5L1392.6,709.2L1395.4,697.5L1398.3,711.1L1401.3,638.8L1402.3,658.4L1402.9,658.4L1404.2,677.9L1405.4,677.9L1407.1,701.4L1408.7,697.5L1411.2,711.1L1413.6,658.4L1414.6,662.3L1415.7,658.4L1417.9,704.3L1418.7,697.5L1420.4,697.5L1421.5,658.4L1422.9,677.9L1423.0,717.0Z"/>
<path class="val" d="M272.2,690.6V717.0M277.6,658.4V717.0M280.5,691.6V717.0M283.0,689.6V717.0M286.6,687.7V717.0M292.9,684.7V717.0M297.1,638.8V717.0M301.3,665.2V717.0M304.9,686.7V717.0M308.4,689.6V717.0M313.7,638.8V717.0M316.7,695.5V717.0M322.1,641.7V717.0M327.0,681.8V717.0M329.5,705.3V717.0M333.7,709.2V717.0M337.9,671.1V717.0M340.4,689.6V717.0M342.8,706.2V717.0M344.8,705.3V717.0M347.0,705.3V717.0M351.2,676.0V717.0M353.6,664.2V717.0M359.5,703.3V717.0M362.5,669.1V717.0M366.1,684.7V717.0M369.0,665.2V717.0M374.4,656.4V717.0M377.4,664.2V717.0M379.4,684.7V717.0M385.6,701.4V717.0M391.1,692.6V717.0M395.2,674.0V717.0M399.9,664.2V717.0M402.7,677.9V717.0M406.9,710.2V717.0M410.7,710.2V717.0M413.0,701.4V717.0M415.2,701.4V717.0M419.0,685.7V717.0M421.9,688.6V717.0M426.5,693.5V717.0M429.0,658.4V717.0M431.5,683.8V717.0M438.5,708.2V717.0M444.6,711.1V717.0M449.3,661.3V717.0M452.6,681.8V717.0M458.8,712.1V717.0M462.3,699.4V717.0M466.4,712.1V717.0M471.7,703.3V717.0M480.1,709.2V717.0M485.6,708.2V717.0M492.9,710.2V717.0M496.4,685.7V717.0M499.7,691.6V717.0M506.3,680.8V717.0M510.8,711.1V717.0M520.3,708.2V717.0M523.3,704.3V717.0M529.6,711.1V717.0M534.3,710.2V717.0M544.9,715.0V717.0M553.6,697.5V717.0M555.9,709.2V717.0M559.5,709.2V717.0M563.5,708.2V717.0M566.0,704.3V717.0M568.2,704.3V717.0M570.4,704.3V717.0M577.7,706.2V717.0M585.8,709.2V717.0M590.2,709.2V717.0M598.6,711.1V717.0M603.1,703.3V717.0M607.8,712.1V717.0M618.1,713.1V717.0M623.1,689.6V717.0M628.9,709.2V717.0M633.4,711.1V717.0M636.7,700.4V717.0M641.4,666.2V717.0M645.5,681.8V717.0M647.7,697.5V717.0M651.4,704.3V717.0M655.5,709.2V717.0M660.2,687.7V717.0M664.3,700.4V717.0M668.5,652.5V717.0M671.0,677.9V717.0M673.0,698.4V717.0M675.5,703.3V717.0M678.5,704.3V717.0M683.0,679.9V717.0M685.1,677.9V717.0M689.6,650.5V717.0M694.6,686.7V717.0M697.4,680.8V717.0M699.6,680.8V717.0M703.2,680.8V717.0M706.6,701.4V717.0M709.2,709.2V717.0M714.6,668.1V717.0M717.1,677.9V717.0M719.9,676.0V717.0M724.5,705.3V717.0M727.0,699.4V717.0M729.5,679.9V717.0M733.7,687.7V717.0M739.8,632.9V717.0M742.5,658.4V717.0M747.5,712.1V717.0M751.6,675.0V717.0M756.1,700.4V717.0M758.8,684.7V717.0M763.3,707.2V717.0M766.0,703.3V717.0M770.8,659.3V717.0M774.9,679.9V717.0M779.9,701.4V717.0M785.2,675.0V717.0M792.7,677.9V717.0M794.9,680.8V717.0M797.4,703.3V717.0M801.9,700.4V717.0M804.9,707.2V717.0M811.2,658.4V717.0M815.2,704.3V717.0M817.3,699.4V717.0M820.8,674.0V717.0M824.8,666.2V717.0M827.1,693.5V717.0M829.8,698.4V717.0M832.3,682.8V717.0M834.8,677.9V717.0M841.8,711.1V717.0M849.8,627.1V717.0M854.4,670.1V717.0M859.4,617.3V717.0M862.2,615.3V717.0M864.2,605.6V717.0M867.2,671.1V717.0M873.6,703.3V717.0M877.7,708.2V717.0M883.5,638.8V717.0M885.5,665.2V717.0M888.4,671.1V717.0M890.7,681.8V717.0M893.9,697.5V717.0M897.7,711.1V717.0M902.7,685.7V717.0M908.3,676.0V717.0M911.3,704.3V717.0M916.6,697.5V717.0M921.0,676.0V717.0M925.5,679.9V717.0M929.6,661.3V717.0M931.6,680.8V717.0M933.8,684.7V717.0M940.4,710.2V717.0M946.7,665.2V717.0M953.4,710.2V717.0M955.7,695.5V717.0M957.9,697.5V717.0M960.4,690.6V717.0M962.9,646.6V717.0M967.0,679.9V717.0M972.0,707.2V717.0M974.5,704.3V717.0M976.7,702.3V717.0M980.8,652.5V717.0M984.6,669.1V717.0M986.6,680.8V717.0M989.1,666.2V717.0M992.1,658.4V717.0M994.6,681.8V717.0M996.3,681.8V717.0M998.8,687.7V717.0M1003.3,678.9V717.0M1005.9,679.9V717.0M1009.9,682.8V717.0M1012.9,669.1V717.0M1018.2,673.0V717.0M1020.7,658.4V717.0M1023.6,705.3V717.0M1026.2,703.3V717.0M1029.9,669.1V717.0M1032.9,684.7V717.0M1037.9,712.1V717.0M1041.5,698.4V717.0M1043.7,689.6V717.0M1046.0,673.0V717.0M1048.7,697.5V717.0M1051.2,692.6V717.0M1055.2,666.2V717.0M1057.8,662.3V717.0M1062.0,666.2V717.0M1069.0,704.3V717.0M1072.5,676.0V717.0M1076.1,701.4V717.0M1078.1,679.9V717.0M1081.8,699.4V717.0M1084.8,679.9V717.0M1091.1,705.3V717.0M1097.6,703.3V717.0M1101.7,658.4V717.0M1104.4,683.8V717.0M1110.2,681.8V717.0M1117.2,683.8V717.0M1120.0,667.1V717.0M1126.7,708.2V717.0M1132.2,688.6V717.0M1141.0,698.4V717.0M1146.3,707.2V717.0M1149.6,703.3V717.0M1153.5,687.7V717.0M1156.0,689.6V717.0M1161.0,708.2V717.0M1163.6,660.3V717.0M1167.9,681.8V717.0M1171.3,705.3V717.0M1176.2,677.9V717.0M1178.4,682.8V717.0M1182.6,665.2V717.0M1185.9,705.3V717.0M1190.7,712.1V717.0M1200.9,688.6V717.0M1206.5,705.3V717.0M1214.2,648.6V717.0M1219.1,658.4V717.0M1223.6,698.4V717.0M1226.6,638.8V717.0M1228.8,641.7V717.0M1234.1,658.4V717.0M1236.3,666.2V717.0M1241.9,677.9V717.0M1245.2,706.2V717.0M1249.2,638.8V717.0M1255.2,701.4V717.0M1257.7,700.4V717.0M1263.2,658.4V717.0M1266.0,689.6V717.0M1269.0,694.5V717.0M1274.0,670.1V717.0M1277.8,664.2V717.0M1281.8,638.8V717.0M1285.8,705.3V717.0M1290.7,680.8V717.0M1294.0,708.2V717.0M1297.3,666.2V717.0M1300.1,685.7V717.0M1302.6,698.4V717.0M1308.5,685.7V717.0M1311.8,697.5V717.0M1316.4,698.4V717.0M1319.8,682.8V717.0M1321.9,682.8V717.0M1325.9,679.9V717.0M1328.1,667.1V717.0M1331.1,700.4V717.0M1333.9,615.3V717.0M1336.7,665.2V717.0M1339.2,698.4V717.0M1347.7,714.1V717.0M1352.7,698.4V717.0M1356.7,700.4V717.0M1361.3,661.3V717.0M1363.8,674.0V717.0M1366.3,687.7V717.0M1370.5,690.6V717.0M1373.7,677.9V717.0M1376.6,703.3V717.0M1379.1,709.2V717.0M1382.1,704.3V717.0M1387.6,659.3V717.0M1390.5,698.4V717.0M1392.6,709.2V717.0M1398.3,711.1V717.0M1402.3,658.4V717.0M1404.2,677.9V717.0M1407.1,701.4V717.0M1411.2,711.1V717.0M1414.6,662.3V717.0M1417.9,704.3V717.0"/>
<path class="ax" d="M259,560.5H271.0V717.0H259"/>
<text class="yl" x="252.1" y="563.3">4</text>
<text class="yl" x="252.1" y="719.8">0</text>
<text class="lab" transform="translate(73.3,645.0) scale(1,1.05)">GSM1670894</text>
<g id="gene">
<path class="gl" d="M383,840.3H1120"/>
<path class="gl" d="M390.0,834.0L397.3,840.3L390.0,846.6M415.0,834.0L422.3,840.3L415.0,846.6M476.0,834.0L483.3,840.3L476.0,846.6M501.1,834.0L508.4,840.3L501.1,846.6M523.4,834.0L530.7,840.3L523.4,846.6M548.7,834.0L556.0,840.3L548.7,846.6M573.4,834.0L580.7,840.3L573.4,846.6M598.4,834.0L605.7,840.3L598.4,846.6M623.4,834.0L630.7,840.3L623.4,846.6M650.7,834.0L658.0,840.3L650.7,846.6M669.7,834.0L677.0,840.3L669.7,846.6M695.0,834.0L702.3,840.3L695.0,846.6M720.0,834.0L727.3,840.3L720.0,846.6M744.7,834.0L752.0,840.3L744.7,846.6M760.7,834.0L768.0,840.3L760.7,846.6M785.7,834.0L793.0,840.3L785.7,846.6M810.7,834.0L818.0,840.3L810.7,846.6M835.7,834.0L843.0,840.3L835.7,846.6M854.7,834.0L862.0,840.3L854.7,846.6M878.0,834.0L885.3,840.3L878.0,846.6M911.7,834.0L919.0,840.3L911.7,846.6M933.4,834.0L940.7,840.3L933.4,846.6M962.7,834.0L970.0,840.3L962.7,846.6M988.4,834.0L995.7,840.3L988.4,846.6M1036.3,834.0L1043.6,840.3L1036.3,846.6M1061.4,834.0L1068.7,840.3L1061.4,846.6M1087.4,834.0L1094.7,840.3L1087.4,846.6M1108.7,834.0L1116.0,840.3L1108.7,846.6"/>
<rect x="381.1" y="824.7" width="3.8" height="31.3"/><rect x="427.1" y="824.7" width="2.9" height="31.3"/><rect x="434.3" y="824.7" width="8.5" height="31.3"/><rect x="445.3" y="824.7" width="3.1" height="31.3"/><rect x="453.6" y="824.7" width="15.1" height="31.3"/><rect x="516.3" y="824.7" width="7.3" height="31.3"/><rect x="631.1" y="824.7" width="14.9" height="31.3"/><rect x="847.3" y="824.7" width="3.4" height="31.3"/><rect x="866.7" y="824.7" width="6.0" height="31.3"/><rect x="891.0" y="824.7" width="5.0" height="31.3"/><rect x="950.3" y="824.7" width="4.7" height="31.3"/><rect x="1004.4" y="824.7" width="25.2" height="31.3"/><rect x="1119.0" y="824.7" width="23.4" height="31.3"/>
<rect x="466.3" y="809" width="2.4" height="62.7"/><rect x="522.0" y="809" width="1.6" height="62.7"/><rect x="639.1" y="809" width="3.8" height="62.7"/><rect x="662.4" y="809" width="4.7" height="62.7"/><rect x="755.1" y="809" width="2.6" height="62.7"/><rect x="846.9" y="809" width="1.4" height="62.7"/><rect x="870.3" y="809" width="2.4" height="62.7"/><rect x="893.7" y="809" width="2.3" height="62.7"/><rect x="897.0" y="809" width="1.7" height="62.7"/><rect x="901.3" y="809" width="1.5" height="62.7"/><rect x="928.1" y="809" width="2.3" height="62.7"/><rect x="944.0" y="809" width="2.3" height="62.7"/><rect x="953.6" y="809" width="1.4" height="62.7"/><rect x="1008.0" y="809" width="1.7" height="62.7"/><rect x="1026.4" y="809" width="3.2" height="62.7"/><rect x="1076.3" y="809" width="2.4" height="62.7"/><rect x="1104.3" y="809" width="2.4" height="62.7"/><rect x="1119.0" y="809" width="3.3" height="62.7"/>
</g>
<text transform="translate(712.7,802) scale(1,1.055)" style="font-size:35.5px">GAD</text>
<path d="M803.7,776V801.9H799.8V783.9H793.9V780.9C797.5,780.7 800.3,779 801.2,776Z"/>
<text transform="translate(88.8,910.7) scale(1,1.01)" style="font-size:48.6px">chr2</text>
<path class="ax" d="M271.0,884.4H1423.6M271.0,902.3H1423.6"/>
<path class="ax" d="M298.8,902.3V910.6M330.5,902.3V922.4M362.2,902.3V910.6M394.0,902.3V910.6M425.7,902.3V910.6M457.4,902.3V910.6M489.1,902.3V922.4M520.9,902.3V910.6M552.6,902.3V910.6M584.3,902.3V910.6M616.1,902.3V910.6M647.8,902.3V922.4M679.5,902.3V910.6M711.3,902.3V910.6M743.0,902.3V910.6M774.7,902.3V910.6M806.5,902.3V922.4M838.2,902.3V910.6M869.9,902.3V910.6M901.6,902.3V910.6M933.4,902.3V910.6M965.1,902.3V922.4M996.8,902.3V910.6M1028.6,902.3V910.6M1060.3,902.3V910.6M1092.0,902.3V910.6M1123.8,902.3V922.4M1155.5,902.3V910.6M1187.2,902.3V910.6M1218.9,902.3V910.6M1250.7,902.3V910.6M1282.4,902.3V922.4M1314.1,902.3V910.6M1345.9,902.3V910.6M1377.6,902.3V910.6M1409.3,902.3V910.6"/>
<text class="lab" transform="translate(331.3,939.0) scale(1,1.005)" text-anchor="middle">170.81Mb</text>
<text class="lab" transform="translate(489.9,939.0) scale(1,1.005)" text-anchor="middle">170.82Mb</text>
<text class="lab" transform="translate(648.6,939.0) scale(1,1.005)" text-anchor="middle">170.83Mb</text>
<text class="lab" transform="translate(807.2,939.0) scale(1,1.005)" text-anchor="middle">170.84Mb</text>
<text class="lab" transform="translate(965.9,939.0) scale(1,1.005)" text-anchor="middle">170.85Mb</text>
<text class="lab" transform="translate(1124.5,939.0) scale(1,1.005)" text-anchor="middle">170.86Mb</text>
<text class="lab" transform="translate(1283.2,939.0) scale(1,1.005)" text-anchor="middle">170.87Mb</text>
</svg>
</body></html>
